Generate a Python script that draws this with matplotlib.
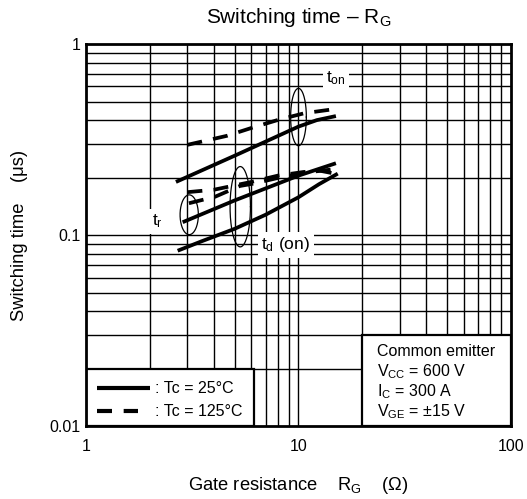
import numpy as np
import matplotlib
matplotlib.use("Agg")
import matplotlib.pyplot as plt
from matplotlib.patches import Rectangle
from matplotlib.lines import Line2D

plt.rcParams['font.family'] = ['Liberation Sans', 'DejaVu Sans']
plt.rcParams['mathtext.fontset'] = 'custom'
plt.rcParams['mathtext.rm'] = 'Liberation Sans'
plt.rcParams['mathtext.it'] = 'Liberation Sans'

# ---- data ----
ton_rg_25 = [2.65, 5.1, 10.0, 12.2, 15.0]
ton_25 = [0.19, 0.263, 0.37, 0.40, 0.42]
ton_rg_125 = [3.0, 4.6, 6.1, 8.2, 10.7, 14.6]
ton_125 = [0.297, 0.331, 0.366, 0.404, 0.435, 0.456]

tr_rg_25 = [2.85, 5.0, 10.0, 15.0]
tr_25 = [0.117, 0.152, 0.205, 0.238]
tr_rg_125 = [3.05, 4.05, 5.3, 6.1, 8.1, 10.5, 15.0]
tr_125 = [0.147, 0.159, 0.181, 0.186, 0.200, 0.212, 0.222]

td_rg_25 = [2.7, 3.5, 5.0, 7.0, 10.0, 12.5, 15.3]
td_25 = [0.083, 0.093, 0.108, 0.128, 0.158, 0.185, 0.21]
td_rg_125 = [3.0, 4.0, 6.0, 8.0, 10.5, 12.5, 14.5]
td_125 = [0.168, 0.173, 0.19, 0.205, 0.214, 0.218, 0.211]

# ellipse groupings: center x, center y, half-width (decades), half-height (decades)
ell_cx = [10.0, 5.32, 3.06]
ell_cy = [0.415, 0.141, 0.128]
ell_hw = [0.037, 0.048, 0.043]
ell_hh = [0.150, 0.210, 0.104]

x_ticks = [1, 10, 100]
x_ticklabels = ["1", "10", "100"]
y_ticks = [0.01, 0.1, 1]
y_ticklabels = ["0.01", "0.1", "1"]

legend_labels = [": Tc = 25°C", ": Tc = 125°C"]
cond_lines = ["Common emitter", "V$_{\\mathrm{CC}}$ = 600 V",
              "I$_{\\mathrm{C}}$ = 300 A", "V$_{\\mathrm{GE}}$ = ±15 V"]

# ---- figure ----
fig = plt.figure(figsize=(5.27, 4.99), dpi=100)
ax = fig.add_axes([0.1632, 0.1453, 0.8064, 0.7665])
ax.set_xscale('log')
ax.set_yscale('log')
ax.set_xlim(1, 100)
ax.set_ylim(0.01, 1)

# grid
for dec in [1, 10]:
    for m in range(1, 10):
        v = dec * m
        if 1 < v < 100:
            ax.axvline(v, color='black', lw=1.0, zorder=0.5)
for dec in [0.01, 0.1]:
    for m in range(1, 10):
        v = dec * m
        if 0.01 < v < 1:
            ax.axhline(v, color='black', lw=1.0, zorder=0.5)

# boxes
ax.add_patch(Rectangle((1, 0.01), 6.15 - 1, 0.02 - 0.01, facecolor='white',
                       edgecolor='black', lw=1.6, zorder=2))
ax.add_patch(Rectangle((20, 0.01), 100 - 20, 0.03 - 0.01, facecolor='white',
                       edgecolor='black', lw=1.6, zorder=2))

lw = 2.7
dash = (4, 3)
ax.plot(ton_rg_25, ton_25, color='black', lw=lw, solid_capstyle='butt', zorder=3)
ax.plot(ton_rg_125, ton_125, color='black', lw=lw, ls=(0, dash), dash_capstyle='butt', zorder=3)
ax.plot(tr_rg_25, tr_25, color='black', lw=lw, solid_capstyle='butt', zorder=3)
ax.plot(tr_rg_125, tr_125, color='black', lw=lw, ls=(0, dash), dash_capstyle='butt', zorder=3)
ax.plot(td_rg_25, td_25, color='black', lw=lw, solid_capstyle='butt', zorder=3)
ax.plot(td_rg_125, td_125, color='black', lw=lw, ls=(0, dash), dash_capstyle='butt', zorder=3)

# ellipses
t = np.linspace(0, 2 * np.pi, 200)
for cx, cy, hw, hh in zip(ell_cx, ell_cy, ell_hw, ell_hh):
    ex = 10 ** (np.log10(cx) + hw * np.cos(t))
    ey = 10 ** (np.log10(cy) + hh * np.sin(t))
    ax.plot(ex, ey, color='black', lw=0.9, zorder=3)

# curve labels
bb = dict(facecolor='white', edgecolor='none', pad=2.5)
ax.text(15.0, 0.66, "t$_{\\mathrm{on}}$", fontsize=12.5, ha='center', va='center', bbox=bb, zorder=4)
ax.text(8.7, 0.089, "t$_{\\mathrm{d}}$ (on)", fontsize=12.5, ha='center', va='center', bbox=bb, zorder=4)
ax.text(2.17, 0.118, "t$_{\\mathrm{r}}$", fontsize=12.5, ha='center', va='center', bbox=bb, zorder=4)

# legend
tr_ax = ax.transAxes
ax.add_line(Line2D([0.025, 0.151], [0.100, 0.100], transform=tr_ax, color='black', lw=3,
                   solid_capstyle='butt', zorder=4))
ax.add_line(Line2D([0.025, 0.123], [0.0405, 0.0405], transform=tr_ax, color='black', lw=3,
                   ls=(0, (3.6, 2.8)), dash_capstyle='butt', zorder=4))
ax.text(0.162, 0.100, legend_labels[0], transform=tr_ax, fontsize=11.5, va='center', ha='left', zorder=4)
ax.text(0.162, 0.0405, legend_labels[1], transform=tr_ax, fontsize=11.5, va='center', ha='left', zorder=4)

# conditions
for i, s in enumerate(cond_lines):
    ax.text(0.685, 0.196 - i * 0.0523, s, transform=tr_ax, fontsize=11.5, va='center', ha='left', zorder=4)

ax.set_xticks(x_ticks)
ax.set_xticklabels(x_ticklabels)
ax.set_yticks(y_ticks)
ax.set_yticklabels(y_ticklabels)
ax.minorticks_off()
ax.tick_params(axis='both', length=0, labelsize=11.5)
ax.tick_params(axis='x', pad=9)
ax.tick_params(axis='y', pad=4)

for sp in ax.spines.values():
    sp.set_linewidth(2.0)
    sp.set_zorder(5)

ax.set_title("Switching time – R$_{\\mathrm{G}}$", fontsize=15, pad=15)
ax.set_xlabel("Gate resistance    R$_{\\mathrm{G}}$    (Ω)", fontsize=13.2, labelpad=15)
ax.set_ylabel("Switching time    (μs)", fontsize=13.2, labelpad=15)

fig.savefig("out.png", dpi=100)
